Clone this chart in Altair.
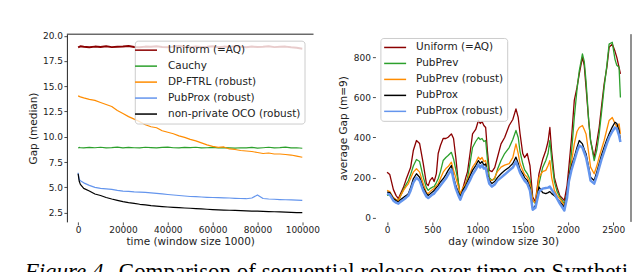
import altair as alt
import pandas as pd

# ---------------- left panel data ----------------
T_LEFT = [0, 500, 1000] + list(range(2500, 100001, 2500))
LEFT_SERIES = ["Uniform (=AQ)", "Cauchy", "DP-FTRL (robust)", "PubProx (robust)", "non-private OCO (robust)"]
LEFT_COLORS = ["#8b0000", "#2ca02c", "#ff8c00", "#6495ed", "#000000"]

UNIFORM_L = [18.85, 18.9, 18.95,
             18.9, 18.85, 18.92, 18.88, 18.95, 18.87, 18.9, 18.93, 18.98, 18.88,
             18.85, 18.92, 18.9, 18.95, 18.88, 18.85, 18.92, 18.97, 18.9, 18.87,
             18.93, 18.88, 18.9, 18.95, 18.86, 18.92, 18.88, 18.97, 18.9, 18.85,
             18.93, 18.88, 18.9, 18.95, 18.87, 18.9, 18.92, 18.85, 18.8, 18.72]
CAUCHY_L = [8.9, 8.95, 8.92,
            8.9, 8.95, 8.92, 8.97, 8.9, 8.93, 8.98, 8.9, 8.95, 8.92,
            8.9, 8.97, 8.93, 8.9, 8.95, 8.98, 8.92, 8.9, 8.95, 8.93,
            8.97, 8.9, 8.92, 8.95, 8.9, 8.93, 8.9, 8.88, 8.92, 8.9,
            8.95, 8.88, 8.92, 8.97, 8.9, 8.93, 8.98, 8.9, 8.92, 8.87]
DPFTRL_L = [14.05, 14.0, 13.95,
            13.85, 13.7, 13.6, 13.4, 13.2, 13.0, 12.6, 12.3, 12.0, 11.75,
            11.5, 11.2, 11.0, 10.9, 10.6, 10.45, 10.3, 10.1, 9.95, 9.75,
            9.6, 9.4, 9.2, 9.05, 8.95, 9.0, 8.8, 8.75, 8.65, 8.6,
            8.55, 8.45, 8.35, 8.4, 8.3, 8.3, 8.25, 8.2, 8.1, 7.98]
PUBPROX_L = [6.45, 5.8, 5.65,
             5.45, 5.2, 5.0, 4.9, 4.85, 4.8, 4.7, 4.63, 4.6, 4.55,
             4.53, 4.5, 4.45, 4.4, 4.35, 4.3, 4.25, 4.2, 4.15, 4.1,
             4.08, 4.05, 4.02, 4.0, 3.98, 3.97, 3.95, 3.92, 3.9, 3.88,
             3.95, 4.25, 3.9, 3.85, 3.83, 3.8, 3.78, 3.76, 3.74, 3.71]
OCO_L = [6.35, 5.6, 5.3,
         4.9, 4.65, 4.35, 4.2, 4.0, 3.85, 3.72, 3.6, 3.5, 3.42,
         3.33, 3.27, 3.2, 3.15, 3.1, 3.06, 3.02, 2.99, 2.96, 2.94,
         2.9, 2.87, 2.84, 2.81, 2.78, 2.76, 2.74, 2.72, 2.7, 2.68,
         2.66, 2.65, 2.63, 2.61, 2.59, 2.57, 2.55, 2.53, 2.51, 2.5]

LEFT_X_TICKS = [0, 20000, 40000, 60000, 80000, 100000]
LEFT_Y_TICKS = [2.5, 5.0, 7.5, 10.0, 12.5, 15.0, 17.5, 20.0]

# ---------------- right panel data ----------------
DAYS = [0, 30, 70, 100, 125, 150, 180, 210, 235, 260,
        290, 325, 360, 400, 435, 455, 475, 500, 520, 545,
        565, 590, 620, 650, 675, 711, 735, 760, 785, 810,
        840, 870, 890, 920, 945, 980, 1010, 1030, 1050, 1070,
        1090, 1110, 1130, 1160, 1190, 1220, 1260, 1300, 1350, 1390,
        1425, 1450, 1470, 1500, 1520, 1550, 1580, 1610, 1640, 1680,
        1720, 1755, 1780, 1800, 1820, 1850, 1880, 1910, 1960, 1990,
        2010, 2040, 2070, 2100, 2125, 2160, 2180, 2200, 2230, 2250,
        2290, 2320, 2345, 2370, 2400, 2430, 2455, 2490, 2520, 2540,
        2565, 2580]
RIGHT_SERIES = ["Uniform (=AQ)", "PubPrev", "PubPrev (robust)", "PubProx", "PubProx (robust)"]
RIGHT_COLORS = ["#8b0000", "#2ca02c", "#ff8c00", "#000000", "#6495ed"]

UNIFORM_R = [227, 215, 140, 110, 95, 120, 150, 190, 220, 250,
             335, 385, 370, 270, 170, 160, 186, 200, 180, 220,
             320, 360, 395, 395, 401, 418, 395, 300, 186, 103,
             150, 200, 230, 330, 418, 440, 485, 470, 480, 460,
             450, 330, 236, 230, 250, 300, 368, 400, 460, 490,
             543, 500, 420, 320, 300, 320, 260, 103, 80, 220,
             290, 335, 380, 450, 330, 200, 150, 110, 86, 160,
             252, 400, 585, 650, 717, 800, 760, 650, 480, 385,
             300, 380, 450, 550, 667, 750, 850, 866, 830, 800,
             750, 717]
PUBPREV_R = [111, 115, 95, 90, 85, 110, 140, 165, 184, 215,
             258, 290, 280, 202, 150, 136, 145, 152, 155, 175,
             194, 230, 285, 300, 310, 326, 293, 240, 186, 100,
             140, 170, 200, 280, 350, 380, 400, 390, 395, 380,
             385, 290, 200, 186, 195, 240, 285, 320, 350, 390,
             435, 400, 330, 270, 240, 220, 190, 86, 70, 170,
             250, 285, 320, 385, 290, 180, 130, 103, 70, 120,
             186, 330, 500, 640, 733, 817, 780, 680, 480, 385,
             285, 340, 418, 520, 650, 760, 866, 875, 790, 760,
             750, 600]
PUBPREV_ROB_R = [136, 130, 100, 90, 85, 110, 135, 155, 169, 195,
                 227, 244, 227, 170, 125, 120, 130, 140, 145, 160,
                 169, 195, 227, 245, 255, 277, 235, 200, 160, 120,
                 150, 170, 190, 225, 252, 275, 302, 290, 300, 280,
                 285, 230, 186, 186, 200, 230, 252, 262, 270, 300,
                 368, 320, 270, 236, 215, 202, 170, 86, 75, 202,
                 230, 236, 260, 285, 200, 136, 110, 95, 61, 110,
                 170, 280, 368, 430, 450, 460, 440, 418, 320, 252,
                 219, 260, 302, 340, 385, 440, 485, 500, 470, 452,
                 468, 418]
PUBPROX_R = [128, 125, 95, 85, 78, 90, 100, 110, 120, 150,
             194, 219, 202, 150, 120, 111, 118, 128, 135, 150,
             160, 178, 194, 215, 236, 260, 202, 160, 130, 103,
             140, 160, 180, 210, 236, 260, 285, 270, 280, 262,
             268, 220, 186, 170, 180, 200, 219, 235, 252, 270,
             302, 270, 240, 219, 200, 186, 150, 45, 60, 153,
             125, 120, 125, 130, 120, 110, 95, 80, 53, 120,
             202, 260, 302, 350, 385, 368, 340, 319, 250, 202,
             186, 230, 269, 310, 352, 390, 418, 452, 476, 470,
             435, 385]
PUBPROX_ROB_R = [120, 115, 85, 75, 70, 80, 90, 100, 110, 135,
                 175, 200, 185, 135, 105, 98, 105, 115, 120, 135,
                 145, 160, 178, 195, 215, 240, 190, 145, 115, 90,
                 125, 145, 165, 190, 215, 240, 265, 250, 262, 245,
                 250, 205, 170, 155, 165, 185, 200, 215, 235, 250,
                 280, 250, 225, 200, 185, 170, 135, 40, 50, 130,
                 145, 148, 150, 155, 140, 120, 95, 70, 36, 100,
                 180, 240, 285, 330, 360, 350, 325, 300, 235, 185,
                 170, 210, 250, 290, 330, 370, 400, 430, 450, 445,
                 410, 377]

RIGHT_X_TICKS = [0, 500, 1000, 1500, 2000, 2500]
RIGHT_Y_TICKS = [0, 200, 400, 600, 800]

CAPTION_FIG = "Figure 4."
CAPTION_REST = "Comparison of sequential release over time on Synthetic"

FONT = "DejaVu Sans"
INK = "#222222"


def long_df(xs, names, cols):
    rows = []
    for name, vals in zip(names, cols):
        assert len(vals) == len(xs), (name, len(vals), len(xs))
        for x, v in zip(xs, vals):
            rows.append({"x": x, "value": v, "series": name})
    return pd.DataFrame(rows)


df_left = long_df(T_LEFT, LEFT_SERIES, [UNIFORM_L, CAUCHY_L, DPFTRL_L, PUBPROX_L, OCO_L])
df_right = long_df(DAYS, RIGHT_SERIES, [UNIFORM_R, PUBPREV_R, PUBPREV_ROB_R, PUBPROX_R, PUBPROX_ROB_R])

LW, LH = 247, 188
RW, RH = 256, 188


def legend(x, y, sym_off, lab_off):
    return alt.Legend(
        title=None, orient="none", legendX=x, legendY=y,
        symbolType="M-2.2,0L2.2,0", symbolSize=100, symbolStrokeWidth=1.5,
        symbolOffset=sym_off, labelOffset=lab_off,
        labelFont=FONT, labelFontSize=10.5, labelColor=INK,
        rowPadding=4, padding=3.5, cornerRadius=3,
        fillColor="rgba(255,255,255,0.8)", strokeColor="#cccccc",
    )


left_lines = alt.Chart(df_left).mark_line(strokeJoin="round").encode(
    x=alt.X("x:Q", scale=alt.Scale(domain=[-5000, 105000], nice=False, zero=False),
            axis=alt.Axis(values=LEFT_X_TICKS, format="d", title="time (window size 1000)",
                          domain=False, tickSize=3, labelPadding=1, titlePadding=2)),
    y=alt.Y("value:Q", scale=alt.Scale(domain=[1.59, 20.15], nice=False, zero=False),
            axis=alt.Axis(values=LEFT_Y_TICKS, format=".1f", title="Gap (median)",
                          domain=True, tickSize=3, labelPadding=1.5, titlePadding=4)),
    color=alt.Color("series:N", scale=alt.Scale(domain=LEFT_SERIES, range=LEFT_COLORS),
                    legend=legend(68, 6.5, 1.75, 16)),
    strokeWidth=alt.condition(alt.datum.series == "Uniform (=AQ)", alt.value(2.0), alt.value(1.2)),
)

one = pd.DataFrame({"k": [0]})
left_top_spine = alt.Chart(one).mark_rule(color=INK, strokeWidth=1).encode(
    x=alt.value(0), x2=alt.value(LW), y=alt.value(0))
bound_rule = alt.Chart(one).mark_rule(color="white", strokeWidth=1).encode(
    x=alt.value(-58.5), x2=alt.value(-50), y=alt.value(-25))
cap1 = alt.Chart(pd.DataFrame({"t": [CAPTION_FIG]})).mark_text(
    font="Liberation Serif", fontSize=23.0, fontStyle="italic", align="left",
    baseline="alphabetic", color="black").encode(
    text="t:N", x=alt.value(-42.3), y=alt.value(245.5))
cap2 = alt.Chart(pd.DataFrame({"t": [CAPTION_REST]})).mark_text(
    font="Liberation Serif", fontSize=23.0, align="left", limit=516, ellipsis="\u200a",
    baseline="alphabetic", color="black").encode(
    text="t:N", x=alt.value(52), y=alt.value(245.5))

left = alt.layer(left_lines, left_top_spine, bound_rule, cap1, cap2).properties(width=LW, height=LH)

right_lines = alt.Chart(df_right).mark_line(strokeJoin="round").encode(
    x=alt.X("x:Q", scale=alt.Scale(domain=[-129, 2697], nice=False, zero=False),
            axis=alt.Axis(values=RIGHT_X_TICKS, format="d", title="day (window size 30)",
                          domain=False, tickSize=3, labelPadding=1, titlePadding=2)),
    y=alt.Y("value:Q", scale=alt.Scale(domain=[-21, 915.5], nice=False, zero=False),
            axis=alt.Axis(values=RIGHT_Y_TICKS, format="d", title="average Gap (m=9)",
                          domain=False, tickSize=3, labelPadding=2, titlePadding=4.5)),
    color=alt.Color("series:N", scale=alt.Scale(domain=RIGHT_SERIES, range=RIGHT_COLORS),
                    legend=legend(5, 3.8, 5.25, 15)),
    strokeWidth=alt.condition(alt.datum.series == "PubProx (robust)", alt.value(2.5), alt.value(1.3)),
)
right_spine = alt.Chart(one).mark_rule(color=INK, strokeWidth=1).encode(
    x=alt.value(RW), y=alt.value(0), y2=alt.value(RH))

right = alt.layer(right_lines, right_spine).properties(width=RW, height=RH)

chart = alt.hconcat(left, right, spacing=62, bounds="flush").resolve_scale(
    color="independent"
).properties(padding=0, background="white").configure_view(stroke=None).configure_axis(
    grid=False, labelFont=FONT, labelFontSize=9, labelColor=INK,
    titleFont=FONT, titleFontSize=10.5, titleFontWeight="normal", titleColor=INK,
    tickColor=INK, tickWidth=0.8, domainColor=INK, domainWidth=1,
)

chart.save("out.html", embed_options={"renderer": "svg", "actions": False})
